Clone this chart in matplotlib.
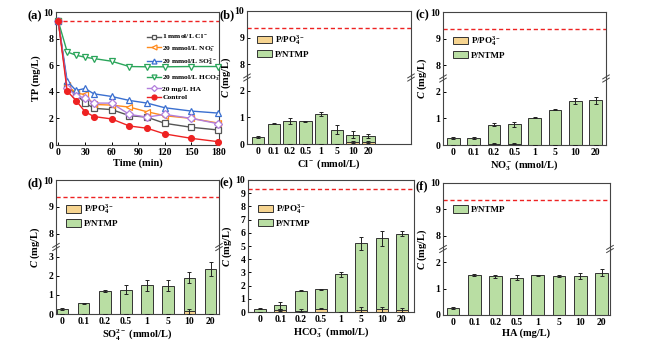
import numpy as np
import matplotlib
matplotlib.use("Agg")
import matplotlib.pyplot as plt
from matplotlib.patches import Patch

plt.rcParams['font.family'] = ['Liberation Serif', 'DejaVu Serif']
plt.rcParams['font.weight'] = 'bold'
plt.rcParams['mathtext.fontset'] = 'custom'
plt.rcParams['mathtext.rm'] = 'Liberation Serif:bold'
plt.rcParams['mathtext.bf'] = 'Liberation Serif:bold'
plt.rcParams['mathtext.it'] = 'Liberation Serif:italic:bold'
plt.rcParams['axes.linewidth'] = 0.8
plt.rcParams['axes.edgecolor'] = '#444444'

# ---- data: panel (a), TP over time
time = [0, 10, 20, 30, 40, 60, 80, 100, 120, 150, 180]
tp_cl = [9.3, 4.45, 3.8, 3.17, 2.76, 2.66, 2.21, 2.09, 1.63, 1.33, 1.13]
tp_no3 = [9.3, 4.5, 3.9, 3.8, 3.05, 3.0, 2.85, 2.5, 2.2, 2.0, 1.65]
tp_so4 = [9.3, 4.8, 4.1, 4.25, 3.85, 3.65, 3.35, 3.15, 2.8, 2.55, 2.4]
tp_hco3 = [9.3, 7.0, 6.75, 6.6, 6.5, 6.3, 5.9, 5.88, 5.88, 5.9, 5.9]
tp_ha = [9.3, 4.3, 3.7, 3.55, 3.15, 3.15, 2.3, 2.1, 2.3, 2.0, 1.6]
tp_ctrl = [9.3, 4.05, 3.34, 2.51, 2.14, 1.96, 1.43, 1.26, 0.83, 0.5, 0.25]
tp_init = 9.35

# ---- data: bar panels (b)-(f)
conc = ['0', '0.1', '0.2', '0.5', '1', '5', '10', '20']

cl_po4 = [0, 0, 0, 0, 0, 0, 0.08, 0.08]
cl_po4_err = [0, 0, 0, 0, 0, 0, 0.04, 0.04]
cl_ntmp = [0.26, 0.77, 0.86, 0.86, 1.13, 0.54, 0.27, 0.22]
cl_err = [0.04, 0.03, 0.1, 0.02, 0.06, 0.17, 0.12, 0.07]

no3_po4 = [0, 0, 0.05, 0.05, 0, 0, 0, 0]
no3_po4_err = [0, 0, 0.03, 0.03, 0, 0, 0, 0]
no3_ntmp = [0.26, 0.26, 0.71, 0.73, 1.03, 1.32, 1.65, 1.68]
no3_err = [0.04, 0.03, 0.06, 0.1, 0.02, 0.02, 0.12, 0.14]

so4_po4 = [0, 0, 0, 0, 0.02, 0, 0.14, 0]
so4_po4_err = [0, 0, 0, 0, 0, 0, 0.12, 0]
so4_ntmp = [0.25, 0.56, 1.2, 1.27, 1.48, 1.48, 1.76, 2.36]
so4_err = [0.05, 0.03, 0.06, 0.24, 0.28, 0.28, 0.3, 0.35]

hco3_po4 = [0, 0.12, 0.1, 0.25, 0, 0.18, 0.2, 0.15]
hco3_po4_err = [0, 0.08, 0.1, 0.05, 0, 0.18, 0.2, 0.15]
hco3_ntmp = [0.25, 0.38, 1.5, 1.47, 2.86, 5.01, 5.37, 5.77]
hco3_err = [0.04, 0.25, 0.03, 0.03, 0.2, 0.52, 0.6, 0.18]

ha_ntmp = [0.26, 1.51, 1.47, 1.42, 1.5, 1.47, 1.47, 1.6]
ha_err = [0.04, 0.05, 0.06, 0.1, 0.03, 0.03, 0.12, 0.14]

GREEN = '#b9dea3'
ORANGE = '#f6d490'
W, H = 662, 343


def add_ax(fig, left, right, top, bottom):
    return fig.add_axes([left / W, 1 - bottom / H, (right - left) / W, (bottom - top) / H])


def style(ax):
    ax.tick_params(direction='in', length=2.5, width=0.7, labelsize=7, pad=2)
    for lab in ax.get_xticklabels() + ax.get_yticklabels():
        lab.set_fontweight('bold')


def broken_scale(ax, low):
    fwd = lambda y: np.where(np.asarray(y) <= low, np.asarray(y) / low,
                             np.where(np.asarray(y) >= 7.5, 1 + (np.asarray(y) - 7.5) / 2.5, 1.0))
    inv = lambda z: np.where(np.asarray(z) <= 1, np.asarray(z) * low, 7.5 + (np.asarray(z) - 1) * 2.5)
    ax.set_yscale('function', functions=(fwd, inv))
    ax.set_ylim(0, 10)
    ticks = list(range(0, int(low) + 1)) + [8, 9, 10]
    ax.set_yticks(ticks)
    ax.set_yticklabels([str(t) for t in ticks])
    ax.yaxis.set_minor_locator(matplotlib.ticker.NullLocator())
    # break marks on both spines
    for xs in (0, 1):
        for dy in (-0.012, 0.012):
            ax.plot([xs - 0.02, xs + 0.02], [0.5 + dy - 0.015, 0.5 + dy + 0.015],
                    transform=ax.transAxes, color='#444444', lw=0.7, clip_on=False)


def bar_panel(ax, ntmp, err, po4=None, po4_err=None, xlabel='', xlim=(-0.5, 7.5), width=0.62):
    x = np.arange(len(conc))
    base = np.zeros(len(conc)) if po4 is None else np.array(po4)
    if po4 is not None:
        ax.bar(x, po4, width, color=ORANGE, edgecolor='#333333', lw=0.7, zorder=2)
        ax.errorbar(x, po4, yerr=po4_err, fmt='none', ecolor='#222222', elinewidth=0.7,
                    capsize=1.5, capthick=0.7, zorder=3)
    ax.bar(x, ntmp, width, bottom=base, color=GREEN, edgecolor='#333333', lw=0.7, zorder=2)
    ax.errorbar(x, base + np.array(ntmp), yerr=err, fmt='none', ecolor='#222222',
                elinewidth=0.7, capsize=1.5, capthick=0.7, zorder=3)
    ax.axhline(tp_init, color='#ee2222', ls='--', lw=1.0, dashes=(3, 2))
    ax.set_xticks(x)
    ax.set_xticklabels(conc)
    ax.set_xlim(*xlim)
    ax.tick_params(axis='x', length=0)
    ax.set_xlabel(xlabel, fontsize=7.5, fontweight='bold', labelpad=1)
    ax.set_ylabel(r'$\it{C}$ (mg/L)', fontsize=7.5, fontweight='bold', labelpad=1)
    handles = []
    if po4 is not None:
        handles.append(Patch(facecolor=ORANGE, edgecolor='#333333', lw=0.7, label=r'P/PO$_4^{3-}$'))
    handles.append(Patch(facecolor=GREEN, edgecolor='#333333', lw=0.7, label='P/NTMP'))
    ax.legend(handles=handles, loc='upper left', bbox_to_anchor=(0.04, 0.86), frameon=False,
              prop={'size': 6.5, 'weight': 'bold'}, handlelength=1.6, handleheight=0.9,
              labelspacing=0.35, handletextpad=0.4, borderaxespad=0)
    style(ax)


fig = plt.figure(figsize=(6.62, 3.43), dpi=100)

# ---- (a)
ax = add_ax(fig, 56, 219, 12, 145)
series = [
    (tp_cl, '1 mmol/L Cl$^-$', '#555555', 's', 'white'),
    (tp_no3, '20 mmol/L NO$_3^-$', '#ff8a1c', '<', 'white'),
    (tp_so4, '20 mmol/L SO$_4^{2-}$', '#3a6fd0', '^', 'white'),
    (tp_hco3, '20 mmol/L HCO$_3^-$', '#2aa55a', 'v', 'white'),
    (tp_ha, '20 mg/L HA', '#b27fdc', 'D', 'white'),
    (tp_ctrl, 'Control', '#ee2222', 'o', '#ee2222'),
]
lines = []
for vals, lab, col, mk, mfc in series:
    ms = 3.6 if mk == 'D' else 4.2
    ln, = ax.plot(time, vals, color=col, marker=mk, mfc=mfc, mec=col, ms=ms, lw=1.0,
                  mew=0.9, label=lab, clip_on=False, zorder=3)
    lines.append(ln)
ax.axhline(tp_init, color='#ee2222', ls='--', lw=1.0, dashes=(3, 2))
ax.set_xlim(-2.6, 181)
ax.set_ylim(0, 10)
ax.set_xticks([0, 30, 60, 90, 120, 150, 180])
ax.set_yticks([0, 2, 4, 6, 8, 10])
ax.set_xlabel('Time (min)', fontsize=7.5, fontweight='bold', labelpad=1)
ax.set_ylabel('TP (mg/L)', fontsize=7.5, fontweight='bold', labelpad=2)
leg_kw = dict(frameon=False, prop={'size': 5.4, 'weight': 'bold'}, handlelength=1.8,
              labelspacing=0.35, handletextpad=0.25, borderaxespad=0, loc='upper left',
              markerscale=0.85)
leg1 = ax.legend(handles=lines[:3], bbox_to_anchor=(0.54, 0.865), **leg_kw)
ax.add_artist(leg1)
ax.legend(handles=lines[3:], bbox_to_anchor=(0.54, 0.565), **leg_kw)
style(ax)
fig.text(27 / W, 1 - 16 / H, '(a)', fontsize=9, fontweight='bold', va='center')

# ---- (b)
ax = add_ax(fig, 247, 411, 11, 144)
broken_scale(ax, 2.5)
bar_panel(ax, cl_ntmp, cl_err, cl_po4, cl_po4_err, 'Cl$^-$ (mmol/L)', xlim=(-0.7, 9.7), width=0.8)
fig.text(219 / W, 1 - 15 / H, '(b)', fontsize=9, fontweight='bold', va='center')

# ---- (c)
ax = add_ax(fig, 443, 606, 12, 145)
broken_scale(ax, 2.5)
bar_panel(ax, no3_ntmp, no3_err, no3_po4, no3_po4_err, 'NO$_3^-$ (mmol/L)', xlim=(-0.5, 7.5))
fig.text(415 / W, 1 - 15 / H, '(c)', fontsize=9, fontweight='bold', va='center')

# ---- (d)
ax = add_ax(fig, 56, 219, 180, 314)
broken_scale(ax, 3.5)
bar_panel(ax, so4_ntmp, so4_err, so4_po4, so4_po4_err, 'SO$_4^{2-}$ (mmol/L)', xlim=(-0.3, 7.4),
          width=0.55)
fig.text(27 / W, 1 - 183 / H, '(d)', fontsize=9, fontweight='bold', va='center')

# ---- (e)
ax = add_ax(fig, 248, 414, 180, 312)
bar_panel(ax, hco3_ntmp, hco3_err, hco3_po4, hco3_po4_err, 'HCO$_3^-$ (mmol/L)',
          xlim=(-0.6, 7.6), width=0.6)
ax.set_ylim(0, 10)
ax.set_yticks(range(0, 11))
style(ax)
fig.text(219 / W, 1 - 183 / H, '(e)', fontsize=9, fontweight='bold', va='center')

# ---- (f)
ax = add_ax(fig, 443, 610, 183, 315)
broken_scale(ax, 2.5)
bar_panel(ax, ha_ntmp, ha_err, xlabel='HA (mg/L)', xlim=(-0.47, 7.4), width=0.6)
fig.text(416 / W, 1 - 186 / H, '(f)', fontsize=9, fontweight='bold', va='center')

fig.savefig('out.png', dpi=100)
